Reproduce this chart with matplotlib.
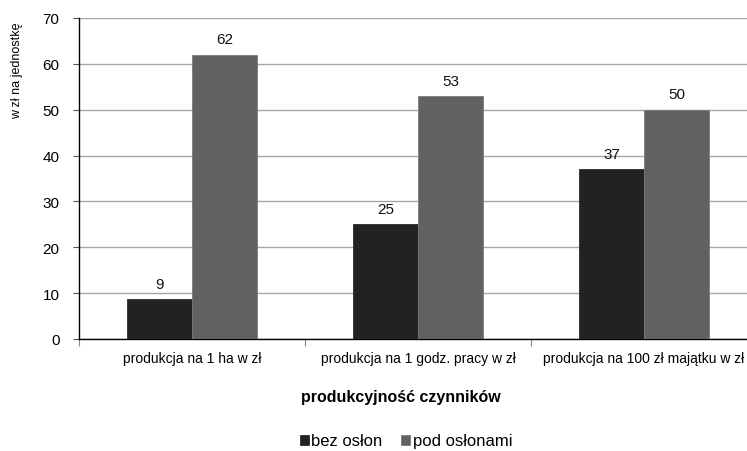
import matplotlib
matplotlib.use("Agg")
import matplotlib.pyplot as plt
import numpy as np

plt.rcParams['font.family'] = ['Liberation Sans', 'DejaVu Sans']

categories = ["produkcja na 1 ha w zł", "produkcja na 1 godz. pracy w zł", "produkcja na 100 zł majątku w zł"]
bez_oslon = [8.7, 25, 37]
pod_oslonami = [62, 53, 50]
series_names = ["bez osłon", "pod osłonami"]
y_ticks = [0, 10, 20, 30, 40, 50, 60, 70]

W, H = 747, 452
fig = plt.figure(figsize=(W / 100, H / 100), dpi=100)
left, right, top, bottom = 79, 757, 19, 340
ax = fig.add_axes([left / W, (H - bottom) / H, (right - left) / W, (bottom - top) / H])

x = np.arange(len(categories))
bw = 0.288
c1, c2 = "#222222", "#616161"
b1 = ax.bar(x - bw / 2, bez_oslon, bw, color=c1, edgecolor="#2a2a2a", linewidth=0.6, zorder=3, label=series_names[0])
b2 = ax.bar(x + bw / 2, pod_oslonami, bw, color=c2, edgecolor="#7a7a7a", linewidth=0.6, zorder=3, label=series_names[1])

for bars in (b1, b2):
    for r in bars:
        ax.annotate(f"{r.get_height():.0f}", (r.get_x() + r.get_width() / 2, r.get_height()),
                    xytext=(0, 6), textcoords="offset points", ha="center", va="bottom",
                    fontsize=11, color="#111111")

ax.set_xlim(-0.5, len(categories) - 0.5)
ax.set_ylim(0, 70)
ax.set_yticks(y_ticks)
ax.yaxis.grid(True, color="#a6a6a6", linewidth=1.0, zorder=0)
ax.set_axisbelow(True)
for s in ("top", "right"):
    ax.spines[s].set_visible(False)
ax.spines["left"].set_linewidth(1.0)
ax.spines["bottom"].set_linewidth(1.0)
ax.tick_params(axis="y", length=4, width=0.8, pad=10, labelsize=11, color="#555555")
ax.set_xticks(np.arange(len(categories) + 1) - 0.5, minor=False)
ax.set_xticklabels([])
ax.set_xticks(x, minor=True)
ax.set_xticklabels(categories, minor=True, fontsize=10)
ax.tick_params(axis="x", which="major", length=5, width=0.8, color="#888888")
ax.tick_params(axis="x", which="minor", length=0, pad=9)

fig.text(401 / W, 1 - 398 / H, "produkcyjność czynników", ha="center", va="center",
         fontsize=11.5, fontweight="bold")
fig.text(17 / W, 1 - 71 / H, "w zł na jednostkę", ha="center", va="center", rotation=90, fontsize=9)

fig.legend(handles=[b1, b2], labels=series_names, loc="center", bbox_to_anchor=(406 / W, 1 - 442 / H),
           ncol=2, frameon=False, fontsize=12, handlelength=0.55, handleheight=0.55,
           handletextpad=0.15, columnspacing=1.1, borderpad=0)

fig.savefig("out.png", dpi=100)
